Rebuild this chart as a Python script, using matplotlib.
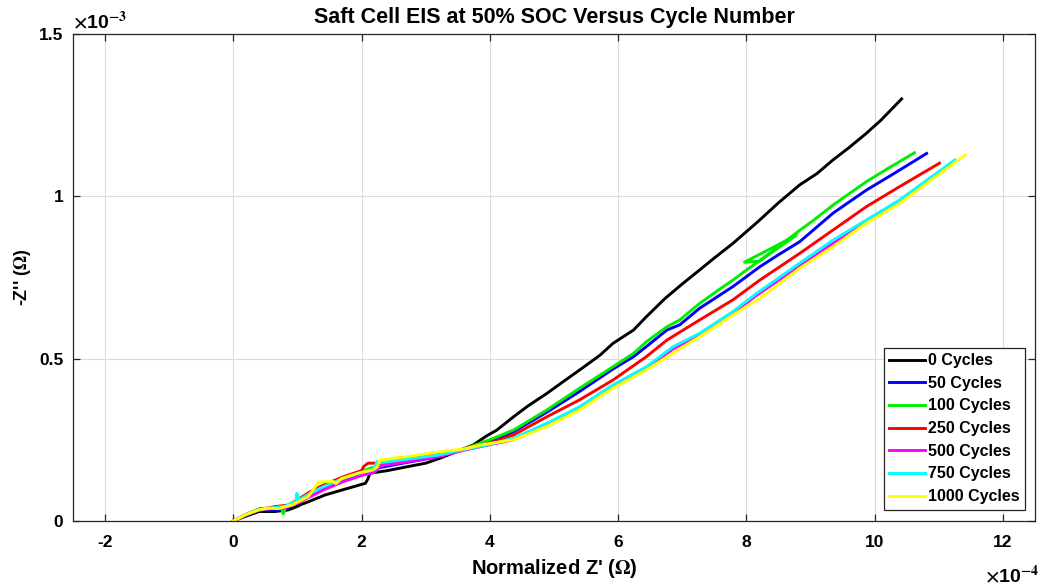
import numpy as np
import matplotlib
matplotlib.use("Agg")
import matplotlib.pyplot as plt
from matplotlib.ticker import FuncFormatter

# Real axis Z' in units of 1e-4 ohm, imaginary -Z'' in units of 1e-3 ohm
labels = ["0 Cycles", "50 Cycles", "100 Cycles", "250 Cycles",
          "500 Cycles", "750 Cycles", "1000 Cycles"]
colors = ["#000000", "#0000ff", "#00ee00", "#ff0000",
          "#ff00ff", "#00ffff", "#ffff00"]

zr_0 = [0, 0.2, 0.4, 0.65, 0.86, 1.0, 1.05, 1.17, 1.43, 1.69, 2.06, 2.1, 2.13,
        2.4, 2.71, 3.0, 3.22, 3.5, 3.74, 3.95, 4.11, 4.37, 4.6, 4.89, 5.15, 5.40,
        5.72, 5.92, 6.24, 6.44, 6.73, 7.0, 7.27, 7.5, 7.79, 8.18, 8.5, 8.83, 9.1,
        9.35, 9.6, 9.87, 10.1, 10.42]
zi_0 = [0, 0.015, 0.029, 0.029, 0.034, 0.045, 0.05, 0.059, 0.080, 0.095, 0.116,
        0.13, 0.147, 0.155, 0.167, 0.178, 0.193, 0.215, 0.234, 0.262, 0.280,
        0.321, 0.355, 0.393, 0.43, 0.465, 0.511, 0.547, 0.588, 0.629, 0.685,
        0.73, 0.773, 0.81, 0.855, 0.922, 0.98, 1.035, 1.07, 1.112, 1.15, 1.194,
        1.235, 1.30]

zr_50 = [0, 0.2, 0.42, 0.6, 0.8, 0.85, 1.0, 1.2, 1.4, 1.7, 2.0, 2.1, 2.3, 2.7,
         3.2, 3.6, 4.0, 4.37, 4.89, 5.40, 5.92, 6.24, 6.44, 6.76, 6.96, 7.27,
         7.79, 8.21, 8.5, 8.83, 9.35, 9.87, 10.3, 10.81]
zi_50 = [0, 0.02, 0.038, 0.035, 0.035, 0.04, 0.06, 0.08, 0.1, 0.125, 0.148,
         0.155, 0.165, 0.18, 0.198, 0.22, 0.245, 0.275, 0.335, 0.399, 0.468,
         0.506, 0.537, 0.588, 0.604, 0.655, 0.722, 0.783, 0.82, 0.860, 0.948,
         1.019, 1.07, 1.132]

zr_100 = [0, 0.2, 0.42, 0.6, 0.75, 0.78, 0.82, 1.0, 1.2, 1.4, 1.7, 2.0, 2.1,
          2.3, 2.7, 3.2, 3.6, 4.0, 4.37, 4.89, 5.40, 5.92, 6.24, 6.44, 6.76,
          6.96, 7.27, 7.59, 7.79, 8.05, 8.78, 7.97, 8.2, 8.5, 8.83, 9.04, 9.35,
          9.87, 10.2, 10.62]
zi_100 = [0, 0.02, 0.038, 0.04, 0.04, 0.022, 0.045, 0.065, 0.085, 0.105, 0.13,
          0.152, 0.16, 0.172, 0.185, 0.202, 0.222, 0.25, 0.28, 0.342, 0.409,
          0.475, 0.516, 0.552, 0.598, 0.619, 0.670, 0.715, 0.742, 0.78, 0.88,
          0.797, 0.80, 0.845, 0.895, 0.925, 0.973, 1.045, 1.085, 1.134]

zr_250 = [0, 0.2, 0.4, 0.65, 0.9, 1.0, 1.2, 1.4, 1.7, 2.0, 2.03, 2.1, 2.29,
          2.7, 3.2, 3.6, 4.0, 4.37, 4.89, 5.40, 5.92, 6.44, 6.76, 7.27, 7.79,
          8.21, 8.83, 9.35, 9.87, 10.39, 11.01]
zi_250 = [0, 0.02, 0.035, 0.044, 0.05, 0.065, 0.09, 0.11, 0.135, 0.155, 0.167,
          0.178, 0.178, 0.19, 0.205, 0.222, 0.24, 0.265, 0.321, 0.373, 0.434,
          0.506, 0.557, 0.619, 0.681, 0.742, 0.824, 0.896, 0.968, 1.030, 1.102]

zr_500 = [0, 0.2, 0.4, 0.6, 0.8, 1.0, 1.2, 1.4, 1.7, 2.0, 2.2, 2.3, 2.7, 3.2,
          3.6, 4.0, 4.37, 4.89, 5.40, 5.92, 6.44, 6.86, 7.27, 7.79, 8.16, 8.83,
          9.35, 9.87, 10.39, 11.19]
zi_500 = [0, 0.018, 0.033, 0.038, 0.04, 0.055, 0.075, 0.095, 0.12, 0.14, 0.15,
          0.17, 0.182, 0.198, 0.218, 0.235, 0.25, 0.296, 0.347, 0.414, 0.47,
          0.53, 0.572, 0.64, 0.695, 0.786, 0.855, 0.92, 0.98, 1.096]

zr_750 = [0, 0.2, 0.4, 0.6, 0.8, 0.98, 0.99, 1.02, 1.2, 1.4, 1.7, 2.0, 2.19,
          2.24, 2.3, 2.7, 3.2, 3.6, 4.0, 4.37, 4.89, 5.40, 5.92, 6.44, 6.86,
          7.27, 7.79, 8.16, 8.83, 9.35, 9.87, 10.39, 11.25]
zi_750 = [0, 0.02, 0.035, 0.04, 0.045, 0.06, 0.085, 0.065, 0.085, 0.105, 0.13,
          0.15, 0.157, 0.183, 0.18, 0.19, 0.203, 0.22, 0.236, 0.255, 0.301,
          0.352, 0.419, 0.475, 0.537, 0.578, 0.645, 0.701, 0.794, 0.865, 0.927,
          0.989, 1.112]

zr_1000 = [0, 0.2, 0.39, 0.55, 0.7, 0.91, 1.17, 1.33, 1.55, 1.6, 1.69, 1.95,
           2.16, 2.24, 2.29, 2.7, 3.22, 3.6, 3.85, 4.37, 4.89, 5.40, 5.92, 6.44,
           6.96, 7.27, 7.79, 8.21, 8.83, 9.35, 9.87, 10.39, 11.41]
zi_1000 = [0, 0.02, 0.034, 0.04, 0.038, 0.049, 0.075, 0.12, 0.122, 0.115,
           0.131, 0.147, 0.157, 0.165, 0.188, 0.198, 0.213, 0.222, 0.234, 0.25,
           0.291, 0.342, 0.409, 0.465, 0.53, 0.567, 0.634, 0.686, 0.778, 0.845,
           0.917, 0.978, 1.127]

series = [(zr_0, zi_0), (zr_50, zi_50), (zr_100, zi_100), (zr_250, zi_250),
          (zr_500, zi_500), (zr_750, zi_750), (zr_1000, zi_1000)]

x_ticks = [-2, 0, 2, 4, 6, 8, 10, 12]
y_ticks = [0, 0.5, 1, 1.5]

plt.rcParams["font.family"] = ["Liberation Sans", "DejaVu Sans"]
plt.rcParams["font.weight"] = "bold"
plt.rcParams["mathtext.fontset"] = "stix"

fig = plt.figure(figsize=(10.42, 5.86), dpi=100)
ax = fig.add_axes([0.070, 0.111, 0.9233, 0.831])

for (zr, zi), lab, col in zip(series, labels, colors):
    ax.plot(np.array(zr) * 1e-4, np.array(zi) * 1e-3, color=col, lw=2.1,
            label=lab, solid_joinstyle="round")

ax.set_xlim(-2.5e-4, 12.5e-4)
ax.set_ylim(0, 1.5e-3)
ax.set_xticks(np.array(x_ticks) * 1e-4)
ax.set_yticks(np.array(y_ticks) * 1e-3)
ax.xaxis.set_major_formatter(FuncFormatter(lambda v, p: f"{v * 1e4:g}"))
ax.yaxis.set_major_formatter(FuncFormatter(lambda v, p: f"{v * 1e3:g}"))

ax.grid(True, color="#dcdcdc", lw=0.8)
ax.set_axisbelow(True)
for s in ax.spines.values():
    s.set_color("#262626")
    s.set_linewidth(0.9)
ax.tick_params(direction="in", length=5, width=0.9, color="#262626",
               top=True, right=True, labelsize=12.5)
ax.tick_params(axis="x", pad=10)
ax.tick_params(axis="y", pad=7)
for t in ax.get_xticklabels() + ax.get_yticklabels():
    t.set_fontweight("bold")

ax.set_title("Saft Cell EIS at 50% SOC Versus Cycle Number",
             fontsize=15.5, fontweight="bold", pad=8)
ax.set_xlabel("Normalized Z' ($\\mathrm{\\Omega}$)", fontsize=14.5,
              fontweight="bold", labelpad=5)
ax.set_ylabel("-Z'' ($\\mathrm{\\Omega}$)", fontsize=13, fontweight="bold",
              labelpad=4)

ax.text(0.0, 1.004, r"$\times$10$^{\mathbf{-3}}$", transform=ax.transAxes,
        ha="left", va="bottom", fontsize=14, fontweight="bold")
ax.text(0.948, -0.088, r"$\times$10$^{\mathbf{-4}}$", transform=ax.transAxes,
        ha="left", va="top", fontsize=14, fontweight="bold")

leg = ax.legend(loc="lower right", bbox_to_anchor=(0.9895, 0.023),
                fontsize=11.5, frameon=True, fancybox=False, framealpha=1,
                edgecolor="#262626", handlelength=2.2, handletextpad=0.2,
                labelspacing=0.48, borderpad=0.35, borderaxespad=0)
leg.get_frame().set_linewidth(0.9)
for t in leg.get_texts():
    t.set_fontweight("bold")

fig.savefig("out.png", dpi=100, facecolor="white")
